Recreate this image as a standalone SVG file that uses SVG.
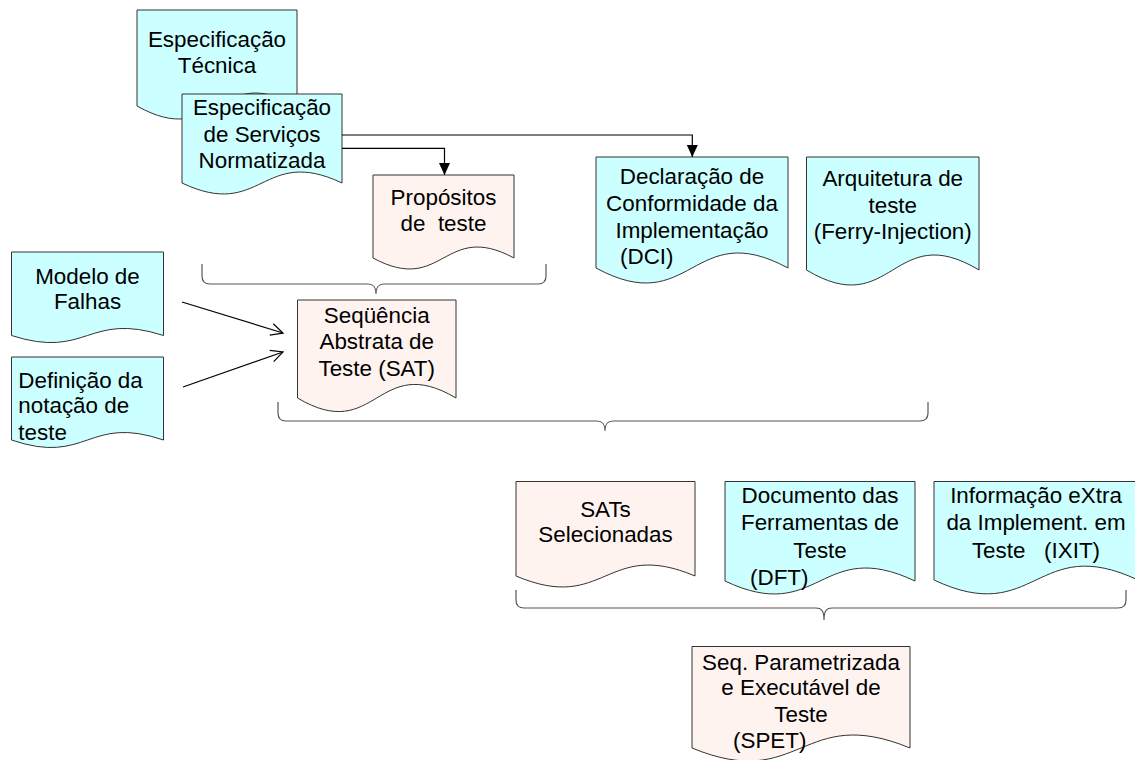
<svg xmlns="http://www.w3.org/2000/svg" width="1135" height="760" viewBox="0 0 1135 760">
<style>
  .cy { fill: #CCFFFF; stroke: #333; stroke-width: 1; }
  .pk { fill: #FFF3EF; stroke: #333; stroke-width: 1; }
  text { font-family: "Liberation Sans", Arial, sans-serif; font-size: 22.4px; fill: #000; }
  .c { text-anchor: middle; }
  .conn { fill: none; stroke: #000; stroke-width: 1.2; }
  .brace { fill: none; stroke: #555; stroke-width: 1.2; }
</style>
<defs>
  <marker id="arrF" markerUnits="userSpaceOnUse" markerWidth="12" markerHeight="12" refX="12" refY="5.5" orient="auto">
    <path d="M0,0 L12,5.5 L0,11 Z" fill="#000"/>
  </marker>
  <marker id="arrO" markerUnits="userSpaceOnUse" markerWidth="14" markerHeight="14" refX="13" refY="7" orient="auto">
    <path d="M1,1 L13,7 L1,13" fill="none" stroke="#000" stroke-width="1.2"/>
  </marker>
</defs>

<g id="esp-tecnica">
  <path class="cy" d="M137,10 H297 V106 C217,61 217,151 137,106 Z"/>
  <text class="c" x="217" y="47">Especificação</text>
  <text class="c" x="217" y="73">Técnica</text>
</g>

<g id="esp-servicos">
  <path class="cy" d="M182,94 H342 V183 C262,145 262,221 182,183 Z"/>
  <text class="c" x="262" y="115">Especificação</text>
  <text class="c" x="262" y="141.7">de Serviços</text>
  <text class="c" x="262" y="168.3">Normatizada</text>
</g>

<g id="propositos">
  <path class="pk" d="M373,175 H514 V258 C443.5,220 443.5,296 373,258 Z"/>
  <text class="c" x="443.5" y="205">Propósitos</text>
  <text class="c" x="443.5" y="231" xml:space="preserve">de  teste</text>
</g>

<g id="dci">
  <path class="cy" d="M596,157 H788 V268 C692,216 692,320 596,268 Z"/>
  <text class="c" x="692" y="184">Declaração de</text>
  <text class="c" x="692" y="211">Conformidade da</text>
  <text class="c" x="692" y="238">Implementação</text>
  <text x="620" y="264">(DCI)</text>
</g>

<g id="arquitetura">
  <path class="cy" d="M806.5,157 H979 V270 C892.75,218 892.75,322 806.5,270 Z"/>
  <text class="c" x="892.75" y="186">Arquitetura de</text>
  <text class="c" x="892.75" y="213">teste</text>
  <text class="c" x="892.75" y="239">(Ferry-Injection)</text>
</g>

<g id="modelo-falhas">
  <path class="cy" d="M11.5,252 H163.5 V335.5 C87.5,311 87.5,360 11.5,335.5 Z"/>
  <text class="c" x="87.5" y="284">Modelo de</text>
  <text class="c" x="87.5" y="309">Falhas</text>
</g>

<g id="definicao-notacao">
  <path class="cy" d="M11.5,357 H163.5 V440 C87.5,414 87.5,466 11.5,440 Z"/>
  <text x="18.3" y="388">Definição da</text>
  <text x="18.3" y="413">notação de</text>
  <text x="18.3" y="440">teste</text>
</g>

<g id="sat">
  <path class="pk" d="M297.5,300 H456 V398 C376.75,351 376.75,445 297.5,398 Z"/>
  <text class="c" x="376.75" y="322.5">Seqüência</text>
  <text class="c" x="376.75" y="349">Abstrata de</text>
  <text class="c" x="376.75" y="375.5">Teste (SAT)</text>
</g>

<g id="sats-selecionadas">
  <path class="pk" d="M516,481.5 H695 V576 C605.5,538 605.5,614 516,576 Z"/>
  <text class="c" x="605.5" y="516.7">SATs</text>
  <text class="c" x="605.5" y="541.7">Selecionadas</text>
</g>

<g id="dft">
  <path class="cy" d="M725,481.5 H915 V581 C820,536 820,626 725,581 Z"/>
  <text class="c" x="820" y="503">Documento das</text>
  <text class="c" x="820" y="530">Ferramentas de</text>
  <text class="c" x="820" y="558">Teste</text>
  <text x="750" y="585">(DFT)</text>
</g>

<g id="ixit">
  <path class="cy" d="M934,481.5 H1138 V580 C1036,532 1036,628 934,580 Z"/>
  <text class="c" x="1036" y="503">Informação eXtra</text>
  <text class="c" x="1036" y="530">da Implement. em</text>
  <text class="c" x="1036" y="558" xml:space="preserve">Teste   (IXIT)</text>
</g>

<g id="spet">
  <path class="pk" d="M692,646.5 H910 V748 C801,703 801,793 692,748 Z"/>
  <text class="c" x="801" y="670">Seq. Parametrizada</text>
  <text class="c" x="801" y="695">e Executável de</text>
  <text class="c" x="801" y="721.7">Teste</text>
  <text x="733" y="748">(SPET)</text>
</g>

<g id="connectors">
  <path class="conn" d="M342,135 H692.3 V157" marker-end="url(#arrF)"/>
  <path class="conn" d="M342,148.3 H444.5 V175" marker-end="url(#arrF)"/>
  <path class="conn" d="M182,302 L283,333" marker-end="url(#arrO)"/>
  <path class="conn" d="M183,387 L283,352" marker-end="url(#arrO)"/>
  <path class="brace" d="M202,264 V276 Q202,284 210,284 H368 C373,284 376,286 376,294 C376,286 379,284 384,284 H538 Q546,284 546,276 V264"/>
  <path class="brace" d="M278,402 V413 Q278,421 286,421 H597 C602,421 605,423 605,431 C605,423 608,421 613,421 H920 Q928,421 928,413 V402"/>
  <path class="brace" d="M516,590 V600 Q516,608 524,608 H816 C821,608 824,610 824,620 C824,610 827,608 832,608 H1118 Q1126,608 1126,600 V590"/>
</g>
</svg>
